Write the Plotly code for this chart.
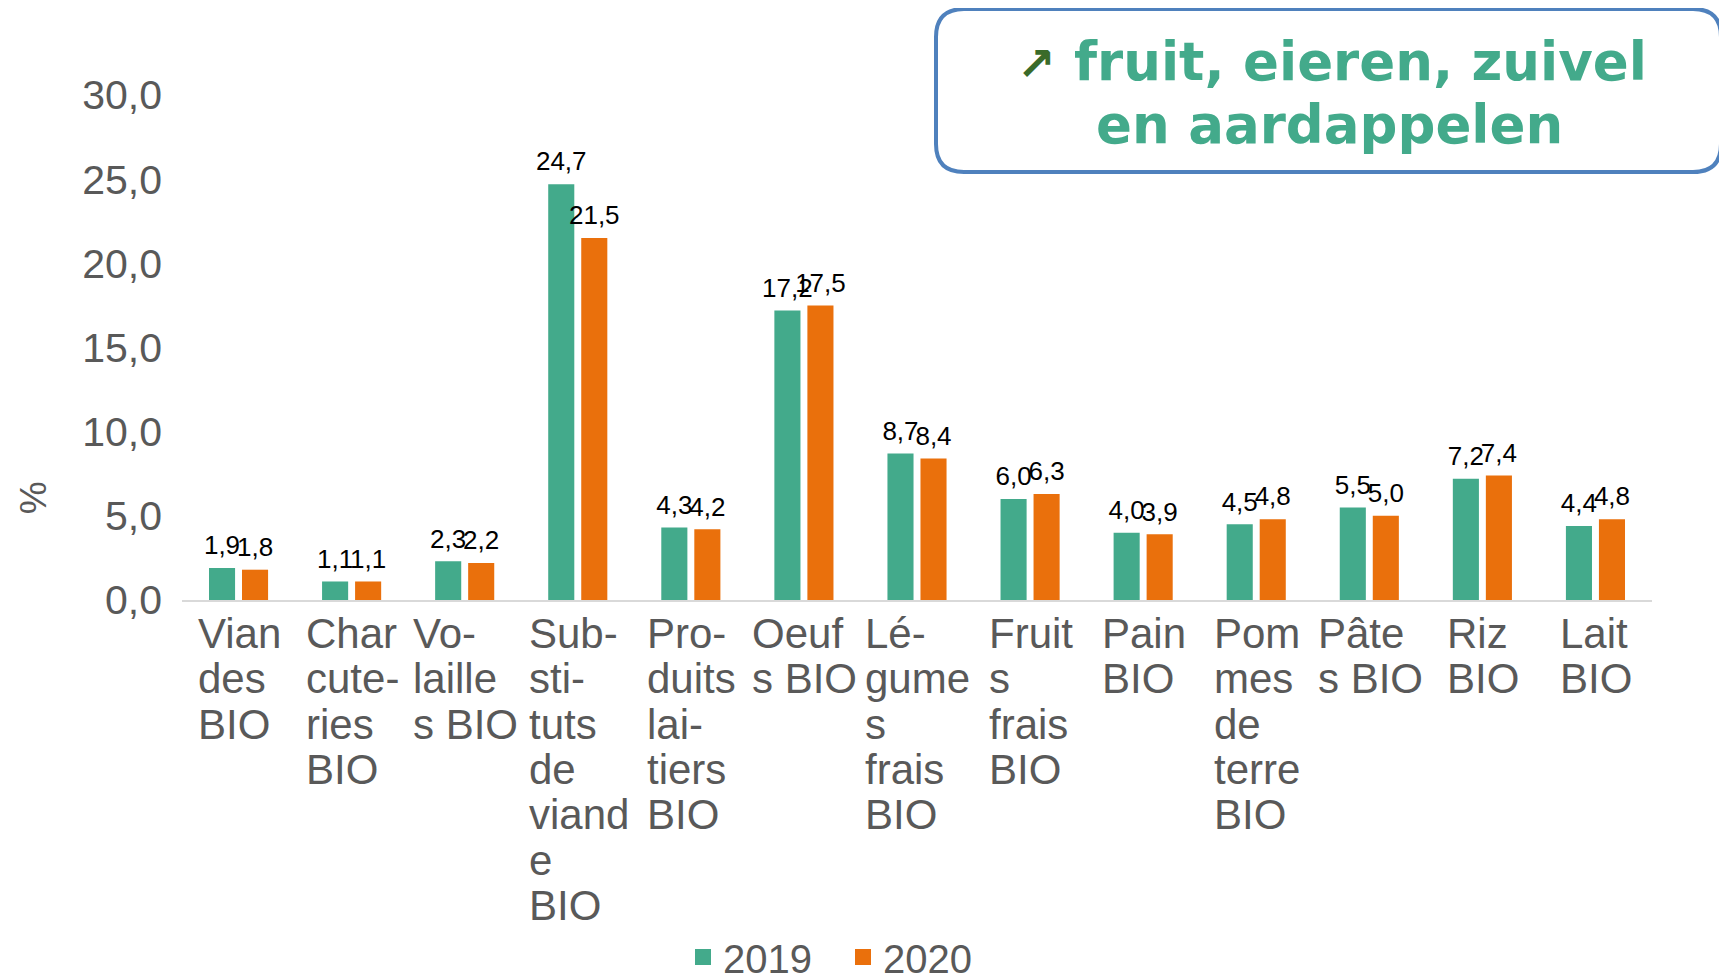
import plotly.graph_objects as go

categories = ["Viandes BIO", "Charcuteries BIO", "Volailles BIO", "Substituts de viande BIO",
              "Produits laitiers BIO", "Oeufs BIO", "Légumes frais BIO", "Fruits frais BIO",
              "Pain BIO", "Pommes de terre BIO", "Pâtes BIO", "Riz BIO", "Lait BIO"]
tick_labels = [["Vian", "des", "BIO"], ["Char", "cute-", "ries", "BIO"], ["Vo-", "laille", "s BIO"],
               ["Sub-", "sti-", "tuts", "de", "viand", "e", "BIO"], ["Pro-", "duits", "lai-", "tiers", "BIO"],
               ["Oeuf", "s BIO"], ["Lé-", "gume", "s", "frais", "BIO"], ["Fruit", "s", "frais", "BIO"],
               ["Pain", "BIO"], ["Pom", "mes", "de", "terre", "BIO"], ["Pâte", "s BIO"], ["Riz", "BIO"],
               ["Lait", "BIO"]]
values_2019 = [1.9, 1.1, 2.3, 24.7, 4.3, 17.2, 8.7, 6.0, 4.0, 4.5, 5.5, 7.2, 4.4]
values_2020 = [1.8, 1.1, 2.2, 21.5, 4.2, 17.5, 8.4, 6.3, 3.9, 4.8, 5.0, 7.4, 4.8]
series_names = ["2019", "2020"]
y_ticks = [0, 5, 10, 15, 20, 25, 30]
y_title = "%"
title_line1 = "<span style=\"color:#3A6B2A;font-size:46px\">↗</span> fruit, eieren, zuivel"
title_line2 = "en aardappelen"

GREEN = "#43AA8B"
ORANGE = "#EA700C"
GRAY = "#595959"
SANS = "Liberation Sans, Arial, sans-serif"

# page has an 8px body margin; figure drawn 8px smaller so it fits the window
W, H = 1719, 966
ml, mr, mt, mb = 174, 75, 87, 374
plot_w = W - ml - mr
plot_h = H - mt - mb
GAP = 0.416

# approximate Liberation Sans advance widths (em/1000) used to left-align label blocks
CW = {'V': 667, 'i': 222, 'a': 556, 'n': 556, 'd': 556, 'e': 556, 's': 500, 'B': 667, 'I': 278,
      'O': 778, 'C': 722, 'h': 556, 'r': 333, 'c': 500, 'u': 556, 't': 278, '-': 333, 'l': 222,
      ' ': 278, 'S': 667, 'b': 556, 'v': 500, 'P': 667, 'o': 556, 'L': 556, 'é': 556, 'g': 556,
      'm': 833, 'F': 611, 'f': 278, 'â': 556, 'R': 722, 'z': 500, 'p': 556}
LBL_SIZE = 42
LINE_STEP = 45.3


def text_w(s, size):
    return sum(CW.get(ch, 556) for ch in s) * size / 1000.0


fig = go.Figure()
series = [(series_names[0], values_2019, GREEN), (series_names[1], values_2020, ORANGE)]
for name, vals, col in series:
    fig.add_trace(go.Bar(
        x=categories, y=vals, name=name, showlegend=False, offsetgroup=name,
        marker=dict(color=col, line=dict(width=0)), hoverinfo="x+y",
    ))
# value labels, grouped the same way as the bars
for name, vals, col in series:
    fig.add_trace(go.Scatter(
        x=categories, y=vals, mode="markers+text", offsetgroup=name, showlegend=False,
        texttemplate="%{y:.1f}", textposition="top center", cliponaxis=False, hoverinfo="skip",
        marker=dict(size=10, opacity=0, color=col),
        textfont=dict(family=SANS, size=26, color="#000000"),
    ))
# legend entries (larger square swatches than the default bar swatch)
for name, vals, col in series:
    fig.add_trace(go.Scatter(x=[None], y=[None], mode="markers", name=name,
                             marker=dict(symbol="square", size=25, color=col)))

annotations = []
for cat, lines in zip(categories, tick_labels):
    block_w = max(text_w(s, LBL_SIZE) for s in lines)
    for i, s in enumerate(lines):
        annotations.append(dict(x=cat, y=0, xref="x", yref="y", text=s, showarrow=False,
                                xanchor="left", yanchor="top", xshift=-block_w / 2 - 1,
                                yshift=-8 - i * LINE_STEP,
                                font=dict(family=SANS, size=LBL_SIZE, color=GRAY)))

annotations.append(dict(x=(33 - 8 - ml) / plot_w, y=6.05, xref="paper", yref="y", text=y_title,
                        textangle=-90, showarrow=False, xanchor="center", yanchor="middle",
                        font=dict(family=SANS, size=37, color=GRAY)))

TFONT = dict(family="DejaVu Sans, sans-serif", size=53, color=GREEN, weight="bold")
annotations.append(dict(x=(1324 - ml) / plot_w, y=(592 - 53.7) / plot_h, xref="paper", yref="paper",
                        text=title_line1, showarrow=False, xanchor="center", yanchor="middle",
                        font=TFONT))
annotations.append(dict(x=(1321 - ml) / plot_w, y=(592 - 116.7) / plot_h, xref="paper", yref="paper",
                        text=title_line2, showarrow=False, xanchor="center", yanchor="middle",
                        font=TFONT))

bx = (1320.5 - ml) / plot_w
by = (592 - 82.5) / plot_h
hw, hh, r = 392.5, 81.5, 28
path = (f"M {-hw + r},{-hh} L {hw - r},{-hh} Q {hw},{-hh} {hw},{-hh + r} L {hw},{hh - r} "
        f"Q {hw},{hh} {hw - r},{hh} L {-hw + r},{hh} Q {-hw},{hh} {-hw},{hh - r} "
        f"L {-hw},{-hh + r} Q {-hw},{-hh} {-hw + r},{-hh} Z")

fig.update_layout(
    width=W, height=H,
    margin=dict(l=ml, r=mr, t=mt, b=mb, autoexpand=False),
    paper_bgcolor="white", plot_bgcolor="white",
    separators=", ",
    barmode="group", bargap=GAP, bargroupgap=0.21,
    scattermode="group", scattergap=GAP,
    xaxis=dict(showticklabels=False, showline=True, linecolor="#D9D9D9", linewidth=2,
               ticks="", showgrid=False, zeroline=False),
    yaxis=dict(range=[0, 30], tickvals=y_ticks, tickformat=".1f", showgrid=False, zeroline=False,
               showline=False, ticks="", ticklabelstandoff=19,
               tickfont=dict(family=SANS, size=41, color=GRAY)),
    legend=dict(orientation="h", x=(675 - ml) / plot_w, y=(592 - 949) / plot_h,
                xanchor="left", yanchor="middle", itemsizing="trace",
                entrywidth=115, entrywidthmode="pixels",
                font=dict(family=SANS, size=40, color=GRAY)),
    annotations=annotations,
    shapes=[dict(type="path", xref="paper", yref="paper", xsizemode="pixel", ysizemode="pixel",
                 xanchor=bx, yanchor=by, path=path, line=dict(color="#4F81BD", width=4),
                 fillcolor="rgba(0,0,0,0)")],
)

fig.write_html("out.html")
